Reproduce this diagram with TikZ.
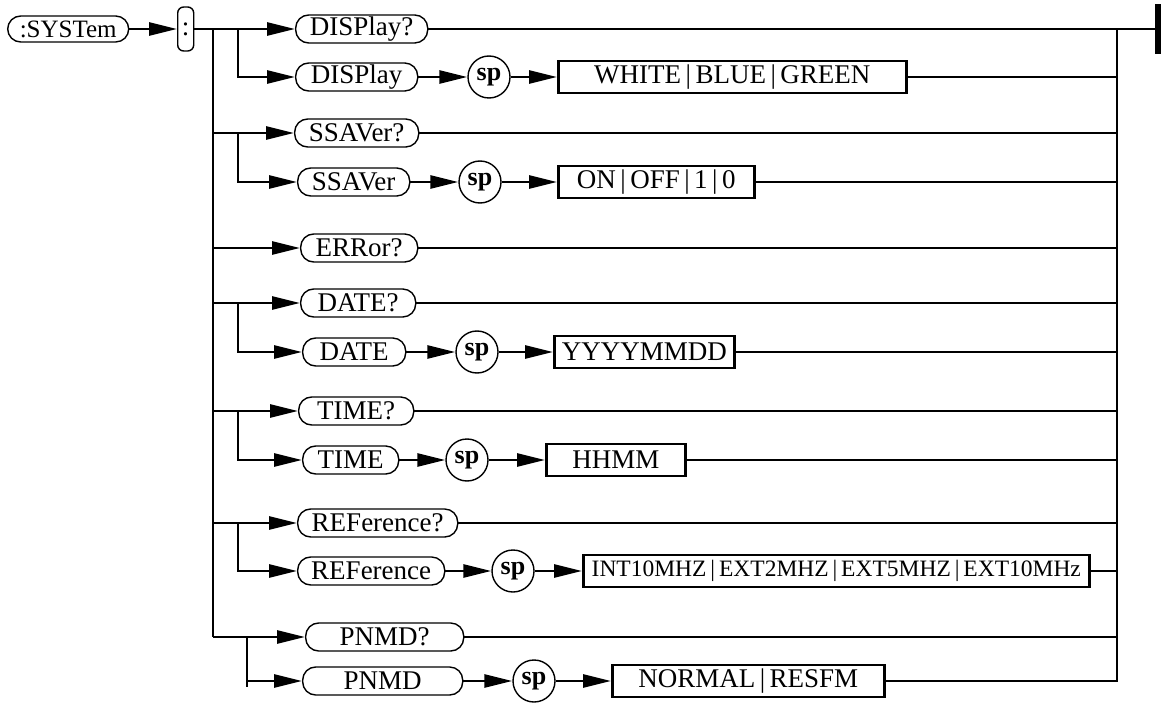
\documentclass[tikz,border=0pt]{standalone}
\usepackage{fontspec}
\setmainfont{Liberation Serif}
\usetikzlibrary{arrows.meta}
\tikzset{
  lbl/.style={font=\fontsize{27}{30}\selectfont},
  rbox/.style={lbl, draw, line width=1.4pt, rounded corners=13pt, minimum height=28pt, inner sep=0pt, anchor=west},
  sbox/.style={lbl, draw, line width=2.6pt, minimum height=32pt, inner sep=0pt, anchor=west},
  spc/.style={circle, draw, line width=1.4pt, minimum size=42pt, inner sep=0pt, font=\fontsize{26}{28}\selectfont\bfseries},
  conn/.style={line width=2.8pt},
  arr/.style={conn, -{Triangle[length=28pt,width=13pt]}},
}
\newcommand{\bsep}{\,|\,}
\begin{document}
\begin{tikzpicture}[x=1pt,y=-1pt]
\useasboundingbox (0,0) rectangle (1161,703);
% start
\node[rbox, minimum width=121pt, minimum height=26pt, font=\fontsize{25}{28}\selectfont] (sys) at (7,29) {:SYSTem};
\node[rbox, minimum width=16pt, minimum height=44pt, rounded corners=6pt] (colon) at (177,29) {:};
\draw[arr] (sys.east) -- (colon.west);
% helper coordinates
\coordinate (tr) at (213,29);
\coordinate (trb) at (213,637);
\coordinate (sv) at (238,0);
\coordinate (svp) at (247,0);
\coordinate (rv) at (1117,29);
\coordinate (rvb) at (1117,681);
% terminal bar
\node[fill, minimum width=6pt, minimum height=50pt, inner sep=0pt] (bar) at (1158,29) {};
% row nodes
\node[rbox, minimum width=132pt] (d1q) at (295,29) {DISPlay?};
\node[rbox, minimum width=122pt] (d2) at (295,77) {DISPlay};
\node[spc] (sp1) at (489,77) {sp};
\node[sbox, minimum width=348pt] (b1) at (557,77) {WHITE\bsep BLUE\bsep GREEN};

\node[rbox, minimum width=124pt] (s1q) at (294,133) {SSAVer?};
\node[rbox, minimum width=112pt] (s2) at (297,182) {SSAVer};
\node[spc] (sp2) at (480,182) {sp};
\node[sbox, minimum width=196pt] (b2) at (557,182) {ON\bsep OFF\bsep 1\bsep 0};

\node[rbox, minimum width=117pt] (eq) at (300,248) {ERRor?};

\node[rbox, minimum width=115pt] (t1q) at (300,303) {DATE?};
\node[rbox, minimum width=103pt] (t2) at (302,352) {DATE};
\node[spc] (sp3) at (477,352) {sp};
\node[sbox, minimum width=180pt] (b3) at (553,352) {YYYYMMDD};

\node[rbox, minimum width=115pt] (h1q) at (298,411) {TIME?};
\node[rbox, minimum width=96pt] (h2) at (302,460) {TIME};
\node[spc] (sp4) at (467,460) {sp};
\node[sbox, minimum width=139pt] (b4) at (545,460) {HHMM};

\node[rbox, minimum width=160pt] (r1q) at (297,523) {REFerence?};
\node[rbox, minimum width=147pt] (r2) at (297,571) {REFerence};
\node[spc] (sp5) at (513,571) {sp};
\node[sbox, minimum width=506pt, font=\fontsize{23.5}{26}\selectfont] (b5) at (582,571) {INT10MHZ\bsep EXT2MHZ\bsep EXT5MHZ\bsep EXT10MHz};

\node[rbox, minimum width=158pt] (p1q) at (305,637) {PNMD?};
\node[rbox, minimum width=160pt] (p2) at (302,681) {PNMD};
\node[spc] (sp6) at (534,681) {sp};
\node[sbox, minimum width=272pt] (b6) at (611,681) {NORMAL\bsep RESFM};

% trunk
\draw[conn] (tr) -- (trb);
\draw[arr] (colon.east) -- (d1q.west);
\foreach \n in {s1q,eq,t1q,h1q,r1q,p1q} \draw[arr] (\n.west -| tr) -- (\n.west);
% sub-branches
\draw[arr] (d1q.west -| sv) |- (d2.west);
\draw[arr] (s1q.west -| sv) |- (s2.west);
\draw[arr] (t1q.west -| sv) |- (t2.west);
\draw[arr] (h1q.west -| sv) |- (h2.west);
\draw[arr] (r1q.west -| sv) |- (r2.west);
\draw[conn] (p1q.west -| svp) -- ++(0,50);
\draw[arr] (p2.west -| svp) -- (p2.west);
% sp chains
\foreach \a/\s/\b in {d2/sp1/b1, s2/sp2/b2, t2/sp3/b3, h2/sp4/b4, r2/sp5/b5, p2/sp6/b6} {
  \draw[arr] (\a.east) -- (\s.west);
  \draw[arr] (\s.east) -- (\b.west);
  \draw[conn] (\b.east) -- (\b.east -| rv);
}
% right side
\draw[conn] (d1q.east) -- (bar.west);
\draw[conn, line cap=rect] (rv) -- (rvb);
\foreach \n in {s1q,eq,t1q,h1q,r1q,p1q} \draw[conn] (\n.east) -- (\n.east -| rv);
\end{tikzpicture}
\end{document}
